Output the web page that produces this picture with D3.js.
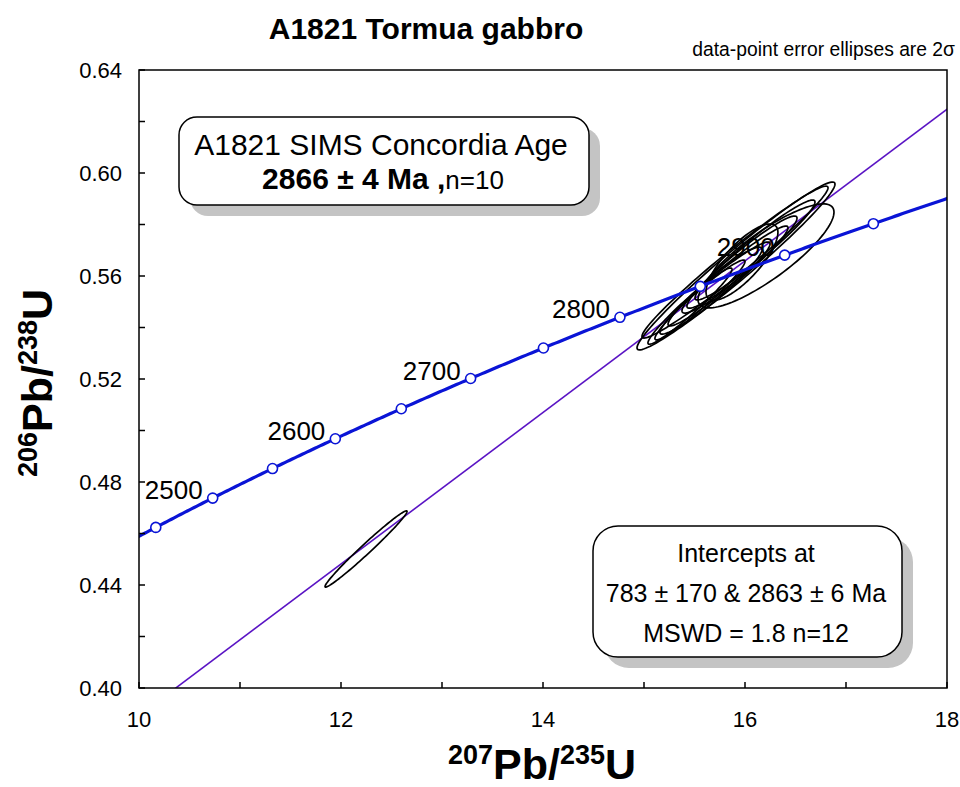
<!DOCTYPE html>
<html>
<head>
<meta charset="utf-8">
<script src="https://cdn.jsdelivr.net/npm/d3@7"></script>
<style>
  body { margin: 0; background: #fff; }
  svg { font-family: "Liberation Sans", Arial, Helvetica, sans-serif; }
</style>
</head>
<body>
<svg id="chart" width="960" height="787"></svg>
<script>
// decay constants (per year)
const lambda238 = 1.55125e-10;
const lambda235 = 9.8485e-10;

// concordia markers and labels (Ma)
const markerAges = [2450, 2500, 2550, 2600, 2650, 2700, 2750, 2800, 2850, 2900, 2950];
const labelAges = [2500, 2600, 2700, 2800, 2900];

// discordia intercepts (Ma)
const interceptAges = [783, 2863];

// error ellipses: centre, 2-sigma half extents, correlation
const ellX   = [15.911, 16.208, 15.901, 15.970, 15.554, 15.703, 15.832, 15.970, 16.099, 15.455, 15.772, 12.248];
const ellY   = [0.5639, 0.5678, 0.5654, 0.5654, 0.5507, 0.5553, 0.5600, 0.5654, 0.5701, 0.5483, 0.5584, 0.4540];
const ellErrX = [0.980, 0.673, 0.921, 0.356, 0.446, 0.545, 0.594, 0.545, 0.594, 0.416, 0.396, 0.406];
const ellErrY = [0.0326, 0.0202, 0.0295, 0.0148, 0.0155, 0.0179, 0.0194, 0.0179, 0.0194, 0.0148, 0.0128, 0.0148];
const ellRho = [0.975, 0.84, 0.978, 0.78, 0.965, 0.96, 0.965, 0.955, 0.96, 0.965, 0.93, 0.985];

const xTicks = [10, 11, 12, 13, 14, 15, 16, 17, 18];
const xTickLabels = [10, 12, 14, 16, 18];
const yTicks = [0.40, 0.42, 0.44, 0.46, 0.48, 0.50, 0.52, 0.54, 0.56, 0.58, 0.60, 0.62, 0.64];
const yTickLabels = [0.40, 0.44, 0.48, 0.52, 0.56, 0.60, 0.64];

const margin = { left: 139, right: 13, top: 70, bottom: 99 };
const W = 960, H = 787;

const svg = d3.select("#chart");
const x = d3.scaleLinear().domain([10, 18]).range([margin.left, W - margin.right]);
const y = d3.scaleLinear().domain([0.40, 0.64]).range([H - margin.bottom, margin.top]);

const conc = (t) => ({
  x: Math.exp(lambda235 * t * 1e6) - 1,
  y: Math.exp(lambda238 * t * 1e6) - 1,
});

svg.append("defs").append("clipPath").attr("id", "plotClip")
  .append("rect")
  .attr("x", x(10)).attr("y", y(0.64))
  .attr("width", x(18) - x(10)).attr("height", y(0.40) - y(0.64));

// title
svg.append("text")
  .attr("x", 426).attr("y", 39)
  .attr("text-anchor", "middle")
  .style("font-weight", "bold").style("font-size", "30px")
  .text("A1821 Tormua gabbro");

svg.append("text")
  .attr("x", 955).attr("y", 56)
  .attr("text-anchor", "end")
  .style("font-size", "19.3px")
  .text("data-point error ellipses are 2σ");

const plot = svg.append("g").attr("clip-path", "url(#plotClip)");

// discordia
const lo = conc(interceptAges[0]), hi = conc(interceptAges[1]);
const slope = (hi.y - lo.y) / (hi.x - lo.x);
plot.append("line")
  .attr("x1", x(lo.x)).attr("y1", y(lo.y))
  .attr("x2", x(20)).attr("y2", y(lo.y + slope * (20 - lo.x)))
  .attr("stroke", "#5a14c4").attr("stroke-width", 1.6);

// ellipses
const ellPath = (i) => {
  const pts = d3.range(0, 361, 3).map(a => {
    const t = a * Math.PI / 180;
    const r = ellRho[i];
    return [
      x(ellX[i] + ellErrX[i] * Math.cos(t)),
      y(ellY[i] + ellErrY[i] * (r * Math.cos(t) + Math.sqrt(1 - r * r) * Math.sin(t)))
    ];
  });
  return d3.line()(pts) + "Z";
};
plot.selectAll("path.ell")
  .data(d3.range(ellX.length))
  .join("path")
  .attr("class", "ell")
  .attr("d", ellPath)
  .attr("fill", "none")
  .attr("stroke", "#000")
  .attr("stroke-width", 1.7);

// concordia curve
const curveAges = d3.range(2400, 3001, 2);
plot.append("path")
  .attr("d", d3.line().x(t => x(conc(t).x)).y(t => y(conc(t).y))(curveAges))
  .attr("fill", "none")
  .attr("stroke", "#0a14d6")
  .attr("stroke-width", 3.2);

plot.selectAll("circle.mk")
  .data(markerAges)
  .join("circle")
  .attr("class", "mk")
  .attr("cx", t => x(conc(t).x))
  .attr("cy", t => y(conc(t).y))
  .attr("r", 5)
  .attr("fill", "#fff")
  .attr("stroke", "#0a14d6")
  .attr("stroke-width", 1.6);

svg.selectAll("text.age")
  .data(labelAges)
  .join("text")
  .attr("class", "age")
  .attr("x", t => x(conc(t).x) - 10)
  .attr("y", t => y(conc(t).y) + 1)
  .attr("text-anchor", "end")
  .style("font-size", "26px")
  .text(t => t);

// frame
const frame = svg.append("g");
frame.append("rect")
  .attr("x", x(10)).attr("y", y(0.64))
  .attr("width", x(18) - x(10)).attr("height", y(0.40) - y(0.64))
  .attr("fill", "none").attr("stroke", "#000").attr("stroke-width", 1.5);

frame.selectAll("line.xt")
  .data(xTicks)
  .join("line")
  .attr("x1", d => x(d)).attr("x2", d => x(d))
  .attr("y1", y(0.40)).attr("y2", y(0.40) - 6)
  .attr("stroke", "#000").attr("stroke-width", 1.5);

frame.selectAll("line.yt")
  .data(yTicks)
  .join("line")
  .attr("x1", x(10)).attr("x2", x(10) + 6)
  .attr("y1", d => y(d)).attr("y2", d => y(d))
  .attr("stroke", "#000").attr("stroke-width", 1.5);

svg.selectAll("text.xl")
  .data(xTickLabels)
  .join("text")
  .attr("x", d => x(d)).attr("y", y(0.40) + 39)
  .attr("text-anchor", "middle")
  .style("font-size", "22px")
  .text(d => d);

svg.selectAll("text.yl")
  .data(yTickLabels)
  .join("text")
  .attr("x", x(10) - 17).attr("y", d => y(d) + 8)
  .attr("text-anchor", "end")
  .style("font-size", "22px")
  .text(d => d.toFixed(2));

// axis titles
const axisTitle = (g, a, b) => {
  g.append("tspan").style("font-size", "27px").attr("dy", -15).text(a);
  g.append("tspan").style("font-size", "43px").attr("dy", 15).text("Pb/");
  g.append("tspan").style("font-size", "27px").attr("dy", -15).text(b);
  g.append("tspan").style("font-size", "43px").attr("dy", 15).text("U");
};
const xt = svg.append("text")
  .attr("x", 542).attr("y", 779)
  .attr("text-anchor", "middle")
  .style("font-weight", "bold");
axisTitle(xt, "207", "235");

const yt = svg.append("text")
  .attr("transform", "translate(52,383) rotate(-90)")
  .attr("text-anchor", "middle")
  .style("font-weight", "bold");
axisTitle(yt, "206", "238");

// annotation boxes
const box = (bx, by, bw, bh, rx) => {
  svg.append("rect")
    .attr("x", bx + 11).attr("y", by + 11)
    .attr("width", bw).attr("height", bh).attr("rx", rx)
    .attr("fill", "#c4c4c4");
  svg.append("rect")
    .attr("x", bx).attr("y", by)
    .attr("width", bw).attr("height", bh).attr("rx", rx)
    .attr("fill", "#fff").attr("stroke", "#000").attr("stroke-width", 1.5);
};

box(179, 117, 410, 88, 18);
svg.append("text")
  .attr("x", 381).attr("y", 155)
  .attr("text-anchor", "middle")
  .style("font-size", "30px")
  .text("A1821 SIMS Concordia Age");
const l2 = svg.append("text")
  .attr("x", 383).attr("y", 189)
  .attr("text-anchor", "middle");
l2.append("tspan").style("font-weight", "bold").style("font-size", "30px").text("2866 ± 4 Ma ,");
l2.append("tspan").style("font-size", "26px").text("n=10");

box(593, 526, 309, 131, 25);
["Intercepts at", "783 ± 170 & 2863 ± 6 Ma", "MSWD = 1.8 n=12"].forEach((s, i) => {
  svg.append("text")
    .attr("x", 746).attr("y", 562 + i * 40)
    .attr("text-anchor", "middle")
    .style("font-size", "25px")
    .text(s);
});
</script>
</body>
</html>
